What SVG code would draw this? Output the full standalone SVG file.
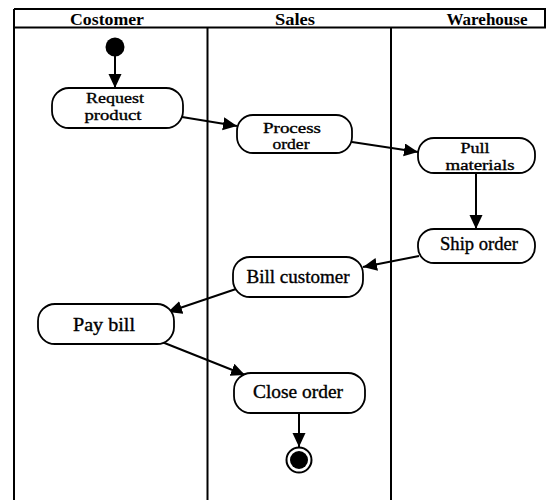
<svg xmlns="http://www.w3.org/2000/svg" width="554" height="500" viewBox="0 0 554 500">
<style>
.frame{stroke:#000;stroke-width:2;fill:none}
.node{fill:#fff;stroke:#000;stroke-width:1.8}
.lbl{font-family:"Liberation Serif","Times New Roman",serif;font-size:18px;fill:#000;stroke:#000;stroke-width:0.35;text-anchor:middle}
.two{font-size:15px}
.hdr{font-family:"Liberation Serif","Times New Roman",serif;font-size:17px;font-weight:bold;fill:#000;text-anchor:middle}
.edge{stroke:#000;stroke-width:2;fill:none;marker-end:url(#arr)}
</style>
<defs>
<marker id="arr" markerUnits="userSpaceOnUse" markerWidth="15" markerHeight="14" refX="14" refY="6.5" orient="auto">
<path d="M0,0 L14,6.5 L0,13 z" fill="#000"/>
</marker>
</defs>
<rect width="554" height="500" fill="#fff"/>
<g id="lanes">
<path class="frame" d="M14,9 H546 M14,27.5 H546 M14,9 V500 M545,9 V27.5 M207.5,27.5 V500 M391,27.5 V500"/>
<text class="hdr" x="107" y="25" textLength="74" lengthAdjust="spacingAndGlyphs">Costomer</text>
<text class="hdr" x="295" y="25" textLength="40" lengthAdjust="spacingAndGlyphs">Sales</text>
<text class="hdr" x="487" y="25" textLength="81" lengthAdjust="spacingAndGlyphs">Warehouse</text>
</g>
<g id="connectors">
<line class="edge" x1="115" y1="56" x2="115" y2="88"/>
<line class="edge" x1="182" y1="117" x2="237" y2="126"/>
<line class="edge" x1="352" y1="142" x2="418" y2="152"/>
<line class="edge" x1="476" y1="173" x2="476" y2="229"/>
<line class="edge" x1="419" y1="256" x2="363" y2="267"/>
<line class="edge" x1="236" y1="289" x2="168" y2="312"/>
<line class="edge" x1="162" y1="342" x2="245" y2="375"/>
<line class="edge" x1="299" y1="413" x2="299" y2="447"/>
</g>
<g id="start"><circle cx="115" cy="47" r="9.5" fill="#000"/></g>
<g id="request-product">
<rect class="node" x="52" y="88" width="131" height="40" rx="17"/>
<text class="lbl two" x="115" y="103" textLength="58" lengthAdjust="spacingAndGlyphs">Request</text>
<text class="lbl two" x="113" y="120" textLength="57" lengthAdjust="spacingAndGlyphs">product</text>
</g>
<g id="process-order">
<rect class="node" x="237" y="115" width="115" height="38" rx="16"/>
<text class="lbl two" x="292" y="133" textLength="58" lengthAdjust="spacingAndGlyphs">Process</text>
<text class="lbl two" x="291" y="149" textLength="37" lengthAdjust="spacingAndGlyphs">order</text>
</g>
<g id="pull-materials">
<rect class="node" x="418" y="138" width="117" height="35" rx="16"/>
<text class="lbl two" x="475" y="153" textLength="29" lengthAdjust="spacingAndGlyphs">Pull</text>
<text class="lbl two" x="480" y="170" textLength="69" lengthAdjust="spacingAndGlyphs">materials</text>
</g>
<g id="ship-order">
<rect class="node" x="418" y="229" width="117" height="34" rx="16"/>
<text class="lbl" x="479" y="250" textLength="78" lengthAdjust="spacingAndGlyphs">Ship order</text>
</g>
<g id="bill-customer">
<rect class="node" x="233" y="257" width="130" height="40" rx="17"/>
<text class="lbl" x="298" y="283" textLength="103" lengthAdjust="spacingAndGlyphs">Bill customer</text>
</g>
<g id="pay-bill">
<rect class="node" x="38" y="304" width="136" height="40" rx="17"/>
<text class="lbl" x="104" y="331" textLength="62" lengthAdjust="spacingAndGlyphs">Pay bill</text>
</g>
<g id="close-order">
<rect class="node" x="234" y="373" width="131" height="40" rx="17"/>
<text class="lbl" x="298" y="398" textLength="90" lengthAdjust="spacingAndGlyphs">Close order</text>
</g>
<g id="end">
<circle cx="299" cy="460" r="12.5" fill="#fff" stroke="#000" stroke-width="2"/>
<circle cx="299" cy="460" r="9" fill="#000"/>
</g>
</svg>
